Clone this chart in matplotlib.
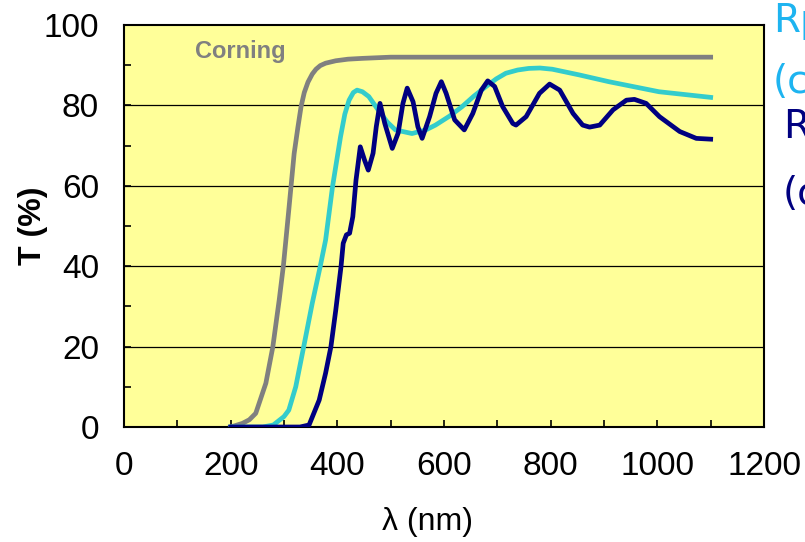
import matplotlib.pyplot as plt
from matplotlib.ticker import MultipleLocator

# wavelength (nm) / transmission (%)
corning_wl = [200, 222, 235, 247, 266, 279, 291, 299, 309, 319, 326, 332, 338, 345, 353, 360, 368,
              378, 397, 420, 447, 500, 700, 900, 1100]
corning_T = [0, 0.9, 1.8, 3.4, 10.9, 19.9, 31.6, 40.3, 54, 68, 74.5, 79.7, 83.2, 85.8, 87.8, 89, 89.9,
             90.5, 91.1, 91.5, 91.7, 92, 92, 92, 92]

cyan_wl = [200, 260, 280, 300, 309, 322, 337, 353, 368, 378, 391, 406, 414, 422, 430, 437, 447, 459,
           478, 494, 509, 540, 566, 584, 610, 634, 656, 678, 698, 716, 738, 759, 780, 803, 853, 909,
           1003, 1100]
cyan_T = [0, 0, 0.5, 2.6, 4.2, 10, 20, 30.8, 40, 46.5, 59.8, 72.2, 77.8, 81.3, 83.2, 83.8, 83.4, 82.2,
          78.6, 75.8, 73.9, 73, 73.9, 75.1, 77.3, 79.7, 82.3, 84.6, 86.6, 88, 88.8, 89.2, 89.3, 89,
          87.6, 85.9, 83.4, 82]

navy_wl = [200, 330, 347, 366, 378, 388, 397, 407, 411, 417, 423, 429, 435, 443, 451, 458, 467,
           473, 480, 489, 503, 514, 523, 531, 542, 551, 559, 573, 585, 595, 604, 620, 638, 654,
           670, 682, 695, 710, 729, 735, 754, 779, 798, 817, 842, 860, 873, 892, 917, 942, 957,
           979, 1004, 1042, 1073, 1100]
navy_T = [0, 0, 0.5, 6.7, 13.4, 20, 29, 40, 45.7, 47.8, 48.2, 52.3, 61.4, 69.7, 66.4, 63.9, 68.1,
          74.7, 80.5, 75.5, 69.3, 73.1, 80.5, 84.3, 80.9, 74.7, 71.8, 77.2, 83, 85.9, 83, 76.4, 73.9, 78,
          83.8, 86.1, 84.7, 79.7, 75.5, 75.1, 77.2, 83, 85.3, 83.8, 78, 75.1, 74.6, 75.1, 78.9, 81.3, 81.5,
          80.5, 77.2, 73.5, 71.8, 71.6]

plt.rcParams['font.family'] = ['Liberation Sans', 'DejaVu Sans']

fig = plt.figure(figsize=(8.05, 5.42), dpi=100)
ax = fig.add_axes([124 / 805, 115 / 542, 640 / 805, 402 / 542])
ax.set_facecolor('#FFFF99')

for y in [20, 40, 60, 80]:
    ax.axhline(y, color='black', lw=0.9, zorder=1)

ax.plot(corning_wl, corning_T, color='#808080', lw=3.4, solid_joinstyle='round', zorder=3)
ax.plot(cyan_wl, cyan_T, color='#33CCCC', lw=3.4, solid_joinstyle='round', zorder=4)
ax.plot(navy_wl, navy_T, color='#000080', lw=3.4, solid_joinstyle='round', zorder=5)

ax.text(218, 93.5, 'Corning', color='#808080', fontsize=17, fontweight='bold',
        ha='center', va='center')

ax.set_xlim(0, 1200)
ax.set_ylim(0, 100)
ax.xaxis.set_major_locator(MultipleLocator(200))
ax.xaxis.set_minor_locator(MultipleLocator(100))
ax.yaxis.set_major_locator(MultipleLocator(20))
ax.yaxis.set_minor_locator(MultipleLocator(10))
ax.tick_params(axis='both', which='both', direction='in', length=5, width=1.2,
               top=False, right=False, labelsize=24)
ax.tick_params(axis='x', which='major', pad=17)
ax.tick_params(axis='y', which='major', pad=18)
for s in ax.spines.values():
    s.set_linewidth(1.5)

ax.set_xlabel('λ (nm)', fontsize=23)
ax.xaxis.set_label_coords((428 - 124) / 640, -0.20)
ax.set_ylabel('T (%)', fontsize=23, fontweight='bold')
ax.yaxis.set_label_coords(-0.118, 0.5)

fig.text(773 / 805, 1 - 32 / 542, 'Rp', color='#1EB4F0', fontsize=28, va='baseline',
         family=['DejaVu Sans'])
fig.text(773 / 805, 1 - 93 / 542, '(c', color='#1EB4F0', fontsize=28, va='baseline',
         family=['DejaVu Sans'])
fig.text(783 / 805, 1 - 138 / 542, 'R', color='#000080', fontsize=28, va='baseline',
         family=['DejaVu Sans'])
fig.text(783 / 805, 1 - 205 / 542, '(c', color='#000080', fontsize=28, va='baseline',
         family=['DejaVu Sans'])

fig.savefig('out.png', dpi=100)
